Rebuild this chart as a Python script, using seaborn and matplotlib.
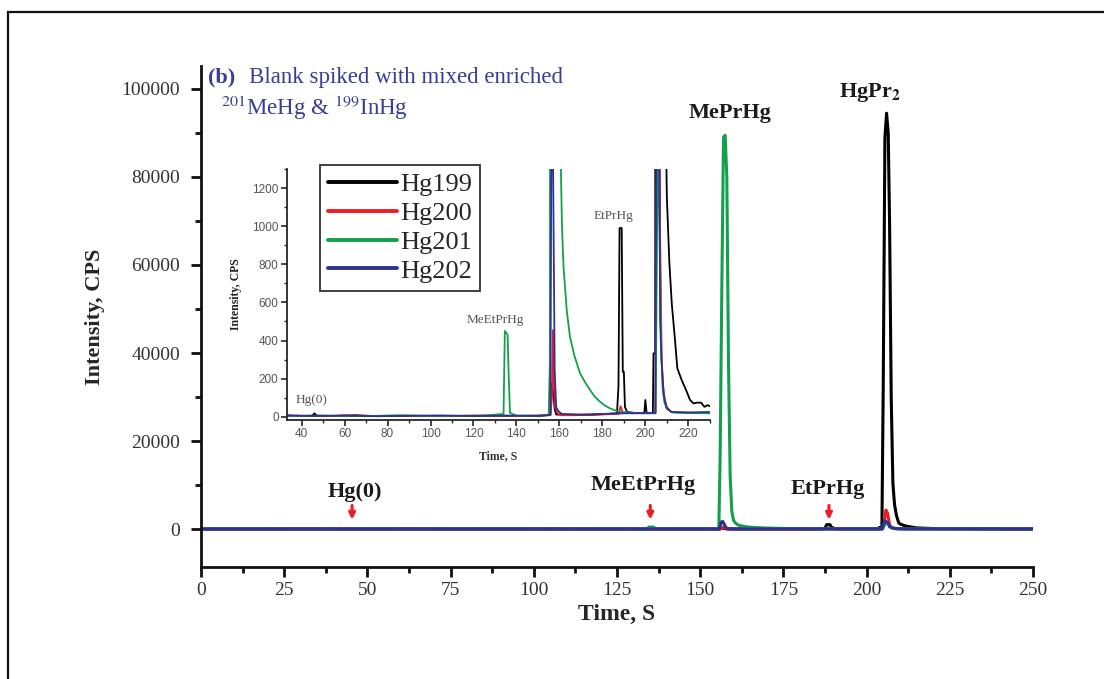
import matplotlib
matplotlib.use("Agg")
import matplotlib.pyplot as plt
from matplotlib.patches import Rectangle
from matplotlib.ticker import MultipleLocator
from matplotlib.lines import Line2D
import seaborn as sns
import pandas as pd

# ---------------- data ----------------
isotopes = ["Hg199", "Hg200", "Hg201", "Hg202"]
colors = ["#000000", "#ee1c24", "#12a04c", "#2e3192"]

t_hg199 = [0, 10, 20, 33, 40, 45, 46, 47, 55, 65, 75, 90, 110, 130, 150, 155.8, 156.5, 157.2,
           157.8, 158.5, 165, 175, 182, 186.8, 187.5, 188.0, 189.0, 189.5, 190.0, 190.5, 191.5,
           195, 199.5, 200.0, 200.6, 201, 203.5, 203.8, 204.6, 205.0, 205.5, 206.0, 206.5, 206.9,
           207.4, 207.9, 208.4, 209.0, 209.6, 210.0, 211.2, 212.3, 213.8, 214.9, 216.9, 219.3,
           220.8, 222.4, 224.0, 226.0, 227.5, 229.0, 235, 250]
v_hg199 = [0, 3, 2, 5, 4, 6, 18, 6, 4, 8, 3, 5, 4, 6, 3, 10, 175, 120,
           40, 12, 8, 10, 15, 18, 160, 990, 990, 236, 236, 52, 25,
           20, 18, 88, 20, 18, 20, 333, 333, 32700, 88900, 94500, 90000, 69800,
           29800, 10400, 5500, 3000, 1500, 1156, 805, 595, 403, 254, 193, 131,
           88, 70, 74, 74, 52, 61, 30, 10]

t_hg200 = [0, 15, 33, 50, 60, 75, 90, 105, 120, 140, 155.8, 156.5, 157.0, 157.5, 158.0, 159.0,
           160.5, 170, 180, 187.5, 188.5, 189.5, 195, 204.8, 205.3, 205.8, 206.3, 206.9, 207.6,
           208.3, 209.0, 210.0, 212.0, 220, 229, 240, 250]
v_hg200 = [0, 4, 6, 3, 7, 4, 5, 3, 6, 4, 8, 100, 455, 150, 50, 20,
           8, 10, 12, 15, 55, 20, 18, 20, 1500, 4300, 3600, 955, 300,
           160, 90, 50, 25, 22, 20, 15, 10]

t_hg201 = [0, 12, 33, 50, 70, 85, 100, 115, 125, 134.0, 134.6, 135.3, 135.9, 136.4, 137.0, 140,
           150, 155.0, 155.6, 156.0, 156.5, 157.0, 157.5, 158.0, 158.5, 159.0, 159.5, 160.0,
           160.6, 161.2, 161.9, 163.4, 164.9, 167.0, 169.6, 172.0, 174.3, 176.5, 178.9, 181.0,
           183.6, 186.0, 188.2, 195, 204.8, 205.4, 206.0, 206.6, 207.3, 208.0, 208.8, 210.0,
           213, 220, 229, 240, 250]
v_hg201 = [0, 5, 4, 6, 3, 8, 4, 5, 6, 15, 450, 440, 430, 210, 20, 6,
           5, 10, 300, 17000, 55000, 89000, 89500, 80000, 38000, 12000, 4000, 2000,
           1350, 1000, 790, 560, 420, 320, 228, 180, 140, 105, 79, 60,
           44, 33, 26, 20, 18, 900, 1500, 1000, 400, 160, 80, 40,
           22, 20, 18, 12, 8]

t_hg202 = [0, 20, 33, 45, 60, 75, 90, 105, 120, 135, 150, 155.8, 156.3, 156.8, 157.3, 157.8,
           158.5, 159.5, 161, 170, 180, 190, 200, 204.6, 205.0, 205.5, 206.0, 206.5, 206.9,
           207.5, 208.5, 209.8, 212, 220, 229, 240, 250]
v_hg202 = [0, 5, 8, 4, 6, 3, 5, 7, 4, 6, 5, 10, 1600, 1700, 970, 245,
           50, 30, 15, 12, 15, 18, 20, 20, 1000, 1900, 1600, 1350, 500,
           300, 120, 50, 25, 22, 25, 15, 10]

# compound labels in the main chart: (label, retention time)
main_marks = [("Hg(0)", 45.4), ("MeEtPrHg", 135.0), ("EtPrHg", 188.7)]

main_xticks = [0, 25, 50, 75, 100, 125, 150, 175, 200, 225, 250]
main_yticks = [0, 20000, 40000, 60000, 80000, 100000]
inset_xticks = [40, 60, 80, 100, 120, 140, 160, 180, 200, 220]
inset_yticks = [0, 200, 400, 600, 800, 1000, 1200]

frames = []
for name, t, v in zip(isotopes, [t_hg199, t_hg200, t_hg201, t_hg202],
                      [v_hg199, v_hg200, v_hg201, v_hg202]):
    frames.append(pd.DataFrame({"time": t, "cps": v, "isotope": name}))
df = pd.concat(frames, ignore_index=True)
palette = dict(zip(isotopes, colors))

# ---------------- style ----------------
sns.set_style("ticks")
plt.rcParams["font.family"] = ["Liberation Serif", "DejaVu Serif"]
plt.rcParams["mathtext.fontset"] = "stix"

W, H = 1104, 679
fig = plt.figure(figsize=(W / 100, H / 100), dpi=100)

# outer frame
fig.add_artist(Rectangle((8 / W, -0.2), 1.2, 1.2 - 12 / H, transform=fig.transFigure,
                         fill=False, lw=1.6, edgecolor="#111111"))

# ---------------- main axes ----------------
ax = fig.add_axes([201 / W, 1 - 567 / H, (1033 - 201) / W, (567 - 66) / H])
sns.lineplot(data=df, x="time", y="cps", hue="isotope", palette=palette, hue_order=isotopes,
             estimator=None, lw=2.2, ax=ax, legend=False)
ax.set_xlim(0, 250)
ax.set_ylim(-8636, 105227)
ax.set_xticks(main_xticks)
ax.set_yticks(main_yticks)
ax.xaxis.set_minor_locator(MultipleLocator(12.5))
ax.yaxis.set_minor_locator(MultipleLocator(10000))
for s in ["top", "right"]:
    ax.spines[s].set_visible(False)
for s in ["left", "bottom"]:
    ax.spines[s].set_linewidth(2.0)
    ax.spines[s].set_color("#111111")
ax.tick_params(which="major", direction="out", length=7, width=2, labelsize=14,
               labelcolor="#333333", color="#111111")
ax.tick_params(which="minor", direction="out", length=4, width=2, color="#111111")
ax.tick_params(axis="y", pad=8)
ax.set_xlabel("Time, S", fontsize=17, fontweight="bold", labelpad=4)
ax.set_ylabel("Intensity, CPS", fontsize=16, fontweight="bold", labelpad=12)

for label, t in main_marks:
    ax.annotate("", xy=(t, 1500), xytext=(t, 6000),
                arrowprops=dict(arrowstyle="-|>", color="#ee1c24", lw=2.2, mutation_scale=9))
ax.text(46.3, 8400, "Hg(0)", fontsize=16, fontweight="bold", ha="center", va="center", color="#1a1a1a")
ax.text(132.8, 10000, "MeEtPrHg", fontsize=16, fontweight="bold", ha="center", va="center", color="#1a1a1a")
ax.text(188.4, 9200, "EtPrHg", fontsize=16, fontweight="bold", ha="center", va="center", color="#1a1a1a")
ax.text(159.0, 94500, "MePrHg", fontsize=16, fontweight="bold", ha="center", va="center", color="#1a1a1a")
ax.text(201.0, 99300, r"HgPr$_{\mathbf{2}}$", fontsize=16, fontweight="bold", ha="center",
        va="center", color="#1a1a1a")

# title text
tcol = "#3a3d96"
fig.text(208 / W, 1 - 77 / H, "(b)", fontsize=16, fontweight="bold", color=tcol, va="center")
fig.text(249 / W, 1 - 77 / H, "Blank spiked with mixed enriched", fontsize=16.5, color=tcol, va="center")
fig.text(221 / W, 1 - 108 / H, r"$^{201}$MeHg & $^{199}$InHg", fontsize=16.5, color=tcol, va="center")

# ---------------- inset ----------------
ins = fig.add_axes([287 / W, 1 - 420 / H, (710 - 287) / W, (420 - 169) / H])
ins.set_facecolor("white")
sns.lineplot(data=df, x="time", y="cps", hue="isotope", palette=palette, hue_order=isotopes,
             estimator=None, lw=1.3, ax=ins, legend=False)
ins.set_xlim(33.2, 230.1)
ins.set_ylim(-17, 1300)
ins.set_xticks(inset_xticks)
ins.set_yticks(inset_yticks)
ins.xaxis.set_minor_locator(MultipleLocator(10))
ins.yaxis.set_minor_locator(MultipleLocator(100))
for s in ["top", "right"]:
    ins.spines[s].set_visible(False)
for s in ["left", "bottom"]:
    ins.spines[s].set_linewidth(1.3)
ins.tick_params(which="major", direction="out", length=4, width=1.2, labelsize=8.5,
                labelcolor="#555555", pad=2)
ins.tick_params(which="minor", direction="out", length=2, width=1.0)
for lab in ins.get_xticklabels() + ins.get_yticklabels():
    lab.set_family(["Liberation Sans", "DejaVu Sans"])
ins.set_xlabel("Time, S", fontsize=8.5, fontweight="bold", labelpad=7, color="#333333")
ins.set_ylabel("Intensity, CPS", fontsize=8.5, fontweight="bold", labelpad=7, color="#222222")

gray = "#555555"
ins.text(44.8, 88, "Hg(0)", fontsize=9.5, color=gray, ha="center", va="center")
ins.text(130.0, 508, "MeEtPrHg", fontsize=9.5, color=gray, ha="center", va="center")
ins.text(185.4, 1055, "EtPrHg", fontsize=9.5, color=gray, ha="center", va="center")

handles = [Line2D([0], [0], color=c, lw=2.8) for c in colors]
leg = ins.legend(handles, isotopes, loc="upper left", bbox_to_anchor=(0.078, 1.016),
                 borderaxespad=0, frameon=True, fancybox=False, fontsize=19,
                 handlelength=2.6, handletextpad=0.15, labelspacing=0.2,
                 borderpad=0.3)
leg.get_frame().set_edgecolor("#111111")
leg.get_frame().set_linewidth(1.4)

fig.savefig("out.png", dpi=100)
